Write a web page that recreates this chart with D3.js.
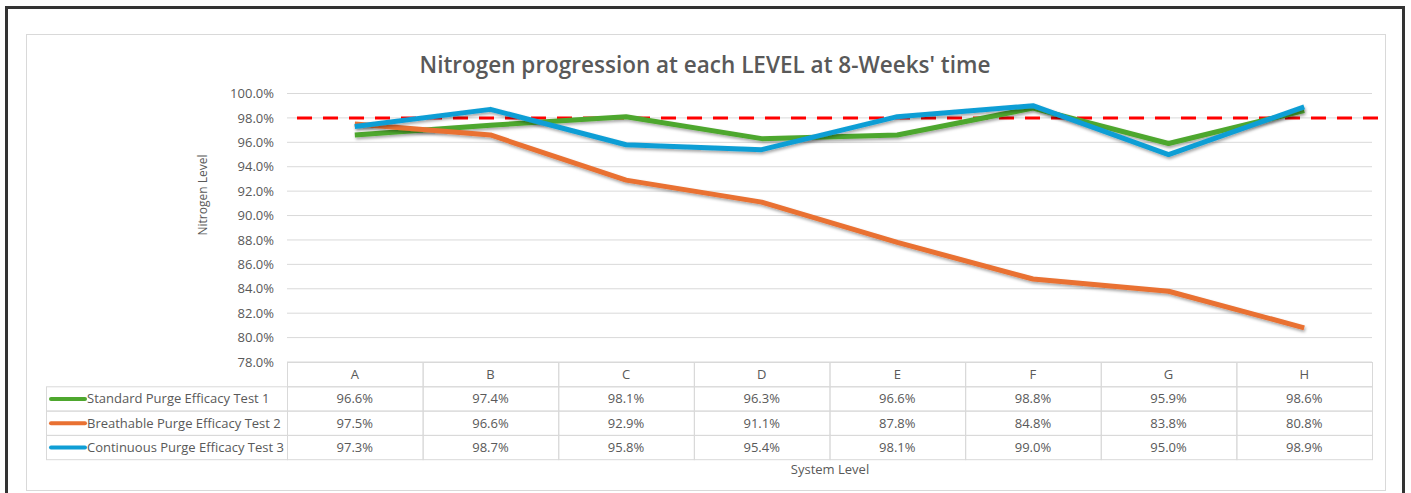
<!DOCTYPE html>
<html>
<head>
<meta charset="utf-8">
<script src="https://cdn.jsdelivr.net/npm/d3@7"></script>
<style>
  body { margin: 0; background: #fff; }
  svg { display: block; font-family: "Open Sans", Roboto, sans-serif; }
</style>
</head>
<body>
<svg id="chart" width="1411" height="493"></svg>
<script>
// chart data
var levels = ["A", "B", "C", "D", "E", "F", "G", "H"];
var seriesNames = ["Standard Purge Efficacy Test 1", "Breathable Purge Efficacy Test 2", "Continuous Purge Efficacy Test 3"];
var standardTest1 = [96.6, 97.4, 98.1, 96.3, 96.6, 98.8, 95.9, 98.6];
var breathableTest2 = [97.5, 96.6, 92.9, 91.1, 87.8, 84.8, 83.8, 80.8];
var continuousTest3 = [97.3, 98.7, 95.8, 95.4, 98.1, 99.0, 95.0, 98.9];
var seriesColors = ["#4ea72e", "#e97132", "#0f9ed5"];
var yTicks = [78, 80, 82, 84, 86, 88, 90, 92, 94, 96, 98, 100];
var targetLevel = 98;

var series = [standardTest1, breathableTest2, continuousTest3];

var svg = d3.select("#chart");

// frames
svg.append("rect")
	.attr("x", 6.5).attr("y", 7.5)
	.attr("width", 1397).attr("height", 500)
	.attr("fill", "none")
	.attr("stroke", "#333")
	.attr("stroke-width", 3);

svg.append("rect")
	.attr("x", 26.5).attr("y", 34.5)
	.attr("width", 1359).attr("height", 456)
	.attr("fill", "#fff")
	.attr("stroke", "#d9d9d9")
	.attr("stroke-width", 1);

var defs = svg.append("defs");
defs.append("filter")
	.attr("id", "shadow")
	.attr("x", "-5%").attr("y", "-20%")
	.attr("width", "110%").attr("height", "140%")
	.append("feDropShadow")
	.attr("dx", 1).attr("dy", 2)
	.attr("stdDeviation", 1.5)
	.attr("flood-color", "#000")
	.attr("flood-opacity", 0.35);

var plotLeft = 287, plotRight = 1372, plotTop = 93.5, plotBottom = 362;

var x = d3.scaleBand()
	.domain(levels)
	.range([plotLeft, plotRight]);

var y = d3.scaleLinear()
	.domain([78, 100])
	.range([plotBottom, plotTop]);

var textColor = "#595959";

// title
svg.append("text")
	.attr("x", 705).attr("y", 73)
	.attr("text-anchor", "middle")
	.attr("font-size", 22.5)
	.attr("font-weight", 600)
	.attr("fill", textColor)
	.text("Nitrogen progression at each LEVEL at 8-Weeks' time");

// gridlines
svg.append("g")
	.selectAll("line")
	.data(yTicks)
	.enter()
	.append("line")
	.attr("x1", plotLeft).attr("x2", plotRight)
	.attr("y1", function(d) { return y(d); })
	.attr("y2", function(d) { return y(d); })
	.attr("stroke", "#d9d9d9")
	.attr("stroke-width", 1);

// y axis labels
var yAxis = d3.axisLeft(y)
	.tickValues(yTicks)
	.tickSize(0)
	.tickPadding(13)
	.tickFormat(function(d) { return d.toFixed(1) + "%"; });

var yg = svg.append("g")
	.attr("transform", "translate(" + plotLeft + ",0)")
	.call(yAxis);
yg.select(".domain").remove();
yg.selectAll("text")
	.attr("font-size", 13)
	.attr("font-family", "'Open Sans', Roboto, sans-serif")
	.attr("fill", textColor);

svg.append("text")
	.attr("transform", "translate(207,195) rotate(-90)")
	.attr("text-anchor", "middle")
	.attr("font-size", 12)
	.attr("fill", textColor)
	.text("Nitrogen Level");

// target line
svg.append("line")
	.attr("x1", 297).attr("x2", 1384)
	.attr("y1", y(targetLevel)).attr("y2", y(targetLevel))
	.attr("stroke", "#ff0000")
	.attr("stroke-width", 3)
	.attr("stroke-dasharray", "15,11");

// series lines
var line = d3.line()
	.x(function(d, i) { return x(levels[i]) + x.bandwidth() / 2; })
	.y(function(d) { return y(d); });

svg.append("g")
	.selectAll("path")
	.data(series)
	.enter()
	.append("path")
	.attr("d", line)
	.attr("fill", "none")
	.attr("stroke", function(d, i) { return seriesColors[i]; })
	.attr("stroke-width", 5)
	.attr("stroke-linejoin", "round")
	.attr("filter", "url(#shadow)");

// data table
var rowH = 24.3;
var headTop = plotBottom, legendLeft = 46;
var grid = "#d9d9d9";
var tbl = svg.append("g");

// header row cells
tbl.selectAll(".head")
	.data(levels)
	.enter()
	.append("rect")
	.attr("x", function(d) { return x(d) + 0.5; })
	.attr("y", headTop + 0.5)
	.attr("width", x.bandwidth())
	.attr("height", rowH)
	.attr("fill", "none")
	.attr("stroke", grid);

tbl.selectAll(".headText")
	.data(levels)
	.enter()
	.append("text")
	.attr("x", function(d) { return x(d) + x.bandwidth() / 2; })
	.attr("y", headTop + rowH / 2 + 5)
	.attr("text-anchor", "middle")
	.attr("font-size", 13)
	.attr("fill", textColor)
	.text(function(d) { return d; });

var rows = tbl.selectAll(".row")
	.data(series)
	.enter()
	.append("g")
	.attr("transform", function(d, i) { return "translate(0," + (headTop + rowH * (i + 1)) + ")"; });

rows.append("rect")
	.attr("x", legendLeft + 0.5).attr("y", 0.5)
	.attr("width", plotLeft - legendLeft).attr("height", rowH)
	.attr("fill", "none")
	.attr("stroke", grid);

rows.append("line")
	.attr("x1", 51).attr("x2", 85)
	.attr("y1", rowH / 2 + 0.5).attr("y2", rowH / 2 + 0.5)
	.attr("stroke", function(d, i) { return seriesColors[i]; })
	.attr("stroke-width", 4)
	.attr("stroke-linecap", "round");

rows.append("text")
	.attr("x", 87).attr("y", rowH / 2 + 5)
	.attr("font-size", 13)
	.attr("fill", textColor)
	.text(function(d, i) { return seriesNames[i]; });

rows.each(function(vals) {
	var r = d3.select(this);
	r.selectAll("rect.cell")
		.data(vals)
		.enter()
		.append("rect")
		.attr("class", "cell")
		.attr("x", function(d, j) { return x(levels[j]) + 0.5; })
		.attr("y", 0.5)
		.attr("width", x.bandwidth())
		.attr("height", rowH)
		.attr("fill", "none")
		.attr("stroke", grid);
	r.selectAll("text.val")
		.data(vals)
		.enter()
		.append("text")
		.attr("class", "val")
		.attr("x", function(d, j) { return x(levels[j]) + x.bandwidth() / 2; })
		.attr("y", rowH / 2 + 5)
		.attr("text-anchor", "middle")
		.attr("font-size", 13)
		.attr("fill", textColor)
		.text(function(d) { return d.toFixed(1) + "%"; });
});

svg.append("text")
	.attr("x", 830).attr("y", 474)
	.attr("text-anchor", "middle")
	.attr("font-size", 13)
	.attr("fill", textColor)
	.text("System Level");
</script>
</body>
</html>
